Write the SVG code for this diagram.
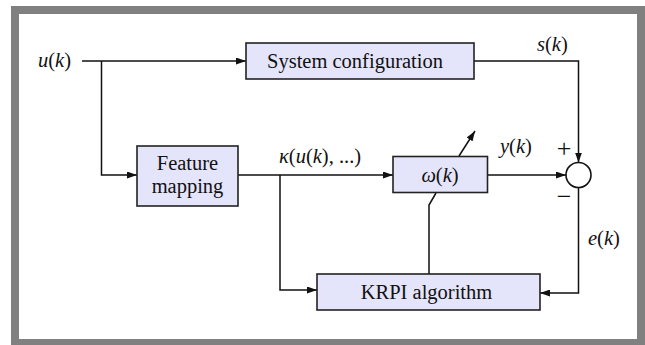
<svg xmlns="http://www.w3.org/2000/svg" width="645" height="345" viewBox="0 0 645 345">
  <defs>
    <marker id="arr" markerUnits="userSpaceOnUse" markerWidth="11" markerHeight="7" refX="10" refY="3.5" orient="auto">
      <path d="M0,0 L10,3.5 L0,7 z" fill="#111"/>
    </marker>
  </defs>
  <style>
    .box { fill: #E4E4FA; stroke: #222; stroke-width: 1.6; }
    .lbl { font-family: 'Liberation Serif', 'Times New Roman', Times, 'DejaVu Serif', serif; font-size: 20.5px; fill: #111; }
    .it { font-style: italic; }
    .sign { font-family: 'Liberation Serif', 'Times New Roman', serif; font-size: 26px; fill: #111; }
    .wire { fill: none; stroke: #111; stroke-width: 1.5; }
  </style>
  <rect x="11" y="6" width="634" height="339" fill="#808080"/>
  <rect x="19" y="14" width="618" height="325" fill="#ffffff"/>

  <g id="connectors">
    <path class="wire" d="M82,61 H246" marker-end="url(#arr)"/>
    <path class="wire" d="M101.5,61 V175 H137" marker-end="url(#arr)"/>
    <path class="wire" d="M474,61 H578.5 V162.5" marker-end="url(#arr)"/>
    <path class="wire" d="M238,175 H393" marker-end="url(#arr)"/>
    <path class="wire" d="M280,175 V290 H317" marker-end="url(#arr)"/>
    <path class="wire" d="M487,175 H566" marker-end="url(#arr)"/>
    <path class="wire" d="M578.5,187.5 V293 H540" marker-end="url(#arr)"/>
    <path class="wire" d="M429,274 V205 L436,193"/>
    <path class="wire" d="M459,156 L475,131" marker-end="url(#arr)"/>
  </g>

  <g id="system-configuration">
    <rect class="box" x="246" y="43" width="228" height="36"/>
    <text class="lbl" x="355" y="68" text-anchor="middle">System configuration</text>
  </g>
  <g id="feature-mapping">
    <rect class="box" x="137" y="146" width="101" height="60"/>
    <text class="lbl" x="187.5" y="170" text-anchor="middle">Feature</text>
    <text class="lbl" x="187.5" y="193" text-anchor="middle">mapping</text>
  </g>
  <g id="omega">
    <rect class="box" x="393" y="156.5" width="94.5" height="36"/>
    <text class="lbl" x="440" y="181.5" text-anchor="middle"><tspan class="it">ω</tspan>(<tspan class="it">k</tspan>)</text>
  </g>
  <g id="krpi">
    <rect class="box" x="317" y="274" width="223" height="36"/>
    <text class="lbl" x="426.5" y="298.5" text-anchor="middle">KRPI algorithm</text>
  </g>
  <g id="summing-junction">
    <circle cx="578.5" cy="175" r="12.5" fill="#fff" stroke="#111" stroke-width="1.6"/>
    <text class="sign" x="564" y="157" text-anchor="middle">+</text>
    <text class="sign" x="564" y="205" text-anchor="middle">−</text>
  </g>

  <g id="labels">
    <text class="lbl" x="38" y="67"><tspan class="it">u</tspan>(<tspan class="it">k</tspan>)</text>
    <text class="lbl" x="537" y="51"><tspan class="it">s</tspan>(<tspan class="it">k</tspan>)</text>
    <text class="lbl" x="279" y="163"><tspan class="it">κ</tspan>(<tspan class="it">u</tspan>(<tspan class="it">k</tspan>), ...)</text>
    <text class="lbl" x="500" y="153"><tspan class="it">y</tspan>(<tspan class="it">k</tspan>)</text>
    <text class="lbl" x="588" y="245"><tspan class="it">e</tspan>(<tspan class="it">k</tspan>)</text>
  </g>
</svg>
